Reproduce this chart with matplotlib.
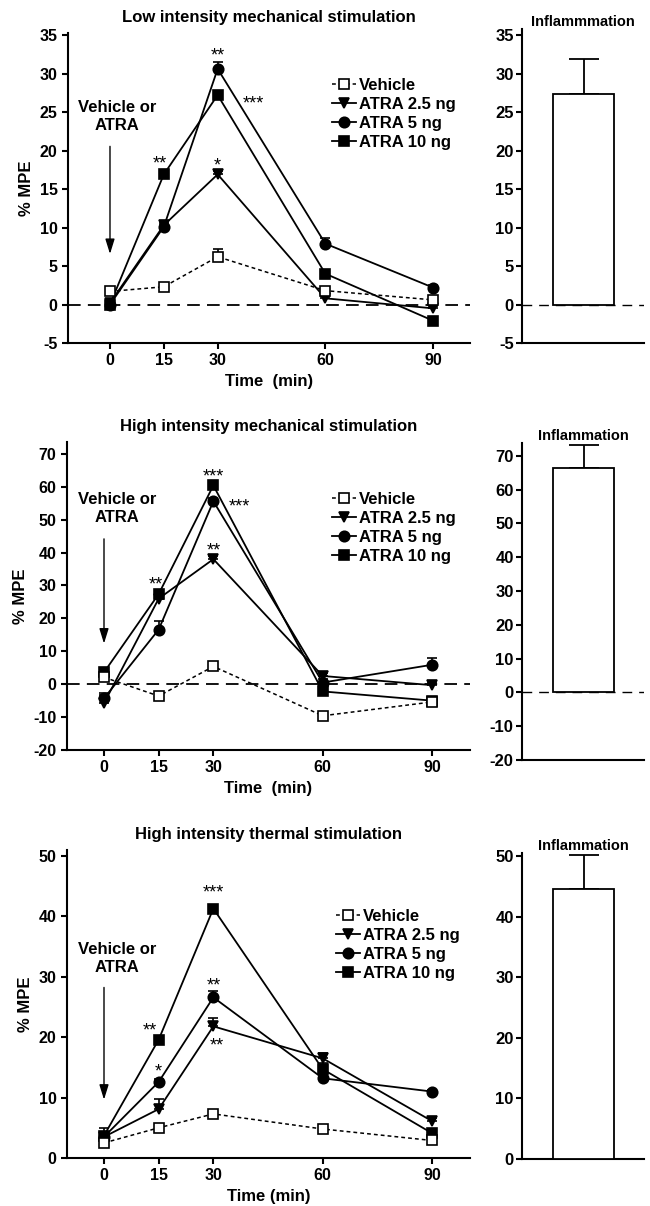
"""Time course of %MPE after ATRA, three stimulation types, with inflammation bars."""

import numpy as np
import matplotlib
matplotlib.use('Agg')
import matplotlib.pyplot as plt

# ---- data -------------------------------------------------------------
times = [0, 15, 30, 60, 90]
series_names = ['Vehicle', 'ATRA 2.5 ng', 'ATRA 5 ng', 'ATRA 10 ng']

# low intensity mechanical
low_vehicle = [1.7, 2.3, 6.2, 1.8, 0.6]
low_atra25 = [0.2, 10.3, 16.9, 0.8, -0.5]
low_atra5 = [0.0, 10.1, 30.6, 7.9, 2.2]
low_atra10 = [0.0, 16.9, 27.2, 4.0, -2.1]
low_vehicle_err = [0.3, 0.3, 1.0, 0.3, 0.3]
low_atra25_err = [0.3, 0.6, 0.5, 0.3, 0.3]
low_atra5_err = [0.3, 0.5, 0.9, 0.8, 0.3]
low_atra10_err = [0.3, 0.4, 0.4, 0.5, 0.3]

# high intensity mechanical
high_vehicle = [2.1, -3.6, 5.4, -9.6, -5.4]
high_atra25 = [-5.8, 26.0, 38.0, 2.5, -0.3]
high_atra5 = [-4.3, 16.6, 55.6, 0.5, 5.9]
high_atra10 = [3.6, 27.4, 60.4, -2.2, -5.0]
high_vehicle_err = [1.0, 0.5, 0.8, 0.5, 0.5]
high_atra25_err = [3.0, 1.0, 1.0, 1.0, 0.8]
high_atra5_err = [1.0, 2.7, 1.0, 1.0, 2.0]
high_atra10_err = [1.0, 1.0, 1.0, 1.0, 1.0]

# high intensity thermal
therm_vehicle = [2.5, 5.0, 7.3, 4.8, 2.9]
therm_atra25 = [3.5, 8.1, 21.8, 16.5, 6.1]
therm_atra5 = [3.5, 12.6, 26.6, 13.2, 11.0]
therm_atra10 = [3.7, 19.6, 41.3, 14.7, 4.1]
therm_vehicle_err = [0.3, 0.3, 0.3, 0.3, 0.3]
therm_atra25_err = [1.5, 1.6, 1.4, 0.9, 0.5]
therm_atra5_err = [0.5, 0.4, 1.0, 0.5, 0.3]
therm_atra10_err = [0.5, 0.4, 0.3, 1.0, 0.4]

# inflammation bars
inflam_means = [27.3, 66.3, 44.5]
inflam_errs = [4.6, 6.9, 5.7]
inflam_titles = ['Inflammmation', 'Inflammation', 'Inflammation']

# significance marks: (x, y of star centre, text)
low_stars = [(30, 33.0, '**'), (40, 26.8, '***'), (14, 19.0, '**'), (30, 18.7, '*')]
high_stars = [(30, 64.7, '***'), (37, 55.6, '***'), (30, 42.4, '**'), (14.3, 31.8, '**')]
therm_stars = [(30, 44.8, '***'), (30, 29.5, '**'), (31, 19.6, '**'), (12.5, 22.0, '**'), (15, 15.2, '*')]

# ---- style -------------------------------------------------------------
plt.rcParams['font.family'] = ['Liberation Sans', 'DejaVu Sans']
plt.rcParams['font.weight'] = 'bold'
plt.rcParams['axes.labelweight'] = 'bold'
plt.rcParams['axes.titleweight'] = 'bold'
plt.rcParams['axes.unicode_minus'] = False
plt.rcParams['axes.linewidth'] = 1.5
plt.rcParams['xtick.major.width'] = 1.5
plt.rcParams['ytick.major.width'] = 1.5
plt.rcParams['xtick.major.size'] = 4
plt.rcParams['ytick.major.size'] = 4
plt.rcParams['xtick.labelsize'] = 11.5
plt.rcParams['ytick.labelsize'] = 11.5

W, H = 650., 1206.
fig = plt.figure(figsize=(W / 100, H / 100), dpi=100)


def px_axes(left, top, right, bottom):
    return fig.add_axes([left / W, 1 - bottom / H, (right - left) / W, (bottom - top) / H])


markers = ['s', 'v', 'o', 's']
faces = ['white', 'black', 'black', 'black']
styles = [(0, (2.5, 2)), '-', '-', '-']


def line_panel(ax, data, errs, stars, title, xlabel, xlim, ylim, yticks,
               zero_line, leg_anchor, text_xy, arrow_y):
    order = [1, 2, 3, 0]  # vehicle drawn on top
    handles = [None] * 4
    for i in order:
        z = 5 if i == 0 else 3
        ax.errorbar(times, data[i], yerr=[np.zeros(5), errs[i]], fmt='none',
                    ecolor='black', elinewidth=1.2, capsize=3.5, capthick=1.2, zorder=z)
        h, = ax.plot(times, data[i], linestyle=styles[i], color='black',
                     lw=1.1 if i == 0 else 1.3, marker=markers[i], ms=7.5,
                     mfc=faces[i], mec='black', mew=1.2, zorder=z + 0.5,
                     label=series_names[i])
        handles[i] = h
    if zero_line:
        ax.axhline(0, color='black', lw=1.3, dashes=(7, 4), zorder=1)
    for x, y, s in stars:
        ax.annotate(s, (x, y), xytext=(0, -7.5), textcoords='offset points',
                    ha='center', va='baseline', fontsize=13, fontweight='normal')
    ax.set_xlim(*xlim)
    ax.set_ylim(*ylim)
    ax.set_xticks(times)
    ax.set_yticks(yticks)
    ax.spines['top'].set_visible(False)
    ax.spines['right'].set_visible(False)
    ax.set_title(title, fontsize=12, pad=8)
    ax.set_xlabel(xlabel, fontsize=12, labelpad=4)
    ax.set_ylabel('% MPE', fontsize=12, labelpad=4)
    ax.legend(handles=handles, loc='upper left', bbox_to_anchor=leg_anchor,
              frameon=False, fontsize=12, handlelength=1.45, handletextpad=0.15,
              labelspacing=0.24, borderpad=0, borderaxespad=0)
    ax.text(text_xy[0], text_xy[1], 'Vehicle or\nATRA', ha='center', va='center',
            fontsize=12, linespacing=1.25)
    ax.annotate('', xy=(0, arrow_y[1]), xytext=(0, arrow_y[0]),
                arrowprops=dict(arrowstyle='-|>,head_width=0.28,head_length=0.9',
                                color='black', lw=1.0))


def bar_panel(ax, mean, err, title, ylim, yticks, zero_line):
    ax.bar([0], [mean], width=1.0, color='white', edgecolor='black', lw=1.3, zorder=3)
    ax.errorbar([0], [mean], yerr=[[0], [err]], fmt='none', ecolor='black',
                elinewidth=1.3, capsize=11, capthick=1.3, zorder=2)
    if zero_line:
        ax.axhline(0, color='black', lw=1.0, dashes=(7, 5), zorder=1)
    ax.set_xlim(-1.01, 0.99)
    ax.set_ylim(*ylim)
    ax.set_yticks(yticks)
    ax.set_xticks([])
    ax.tick_params(axis='y', labelsize=12, pad=2)
    ax.spines['top'].set_visible(False)
    ax.spines['right'].set_visible(False)
    ax.set_title(title, fontsize=10.5, pad=-1)


# panel 1
ax1 = px_axes(68, 33, 470, 343)
line_panel(ax1, [low_vehicle, low_atra25, low_atra5, low_atra10],
           [low_vehicle_err, low_atra25_err, low_atra5_err, low_atra10_err],
           low_stars, 'Low intensity mechanical stimulation', 'Time  (min)',
           (-11.7, 100.3), (-5, 35.26), np.arange(-5, 36, 5), True,
           (0.657, 0.855), (2, 24.4), (20.9, 6.2))
bx1 = px_axes(522, 29, 644, 343)
bar_panel(bx1, inflam_means[0], inflam_errs[0], inflam_titles[0],
          (-5, 35.8), np.arange(-5, 36, 5), True)

# panel 2
ax2 = px_axes(67, 442, 470, 750)
line_panel(ax2, [high_vehicle, high_atra25, high_atra5, high_atra10],
           [high_vehicle_err, high_atra25_err, high_atra5_err, high_atra10_err],
           high_stars, 'High intensity mechanical stimulation', 'Time  (min)',
           (-10.15, 100.4), (-20, 73.6), np.arange(-20, 71, 10), True,
           (0.658, 0.838), (3.5, 53.3), (45, 11.5))
bx2 = px_axes(522, 443, 644, 760)
bar_panel(bx2, inflam_means[1], inflam_errs[1], inflam_titles[1],
          (-20, 73.8), np.arange(-20, 71, 10), True)

# panel 3
ax3 = px_axes(67, 850, 470, 1158)
line_panel(ax3, [therm_vehicle, therm_atra25, therm_atra5, therm_atra10],
           [therm_vehicle_err, therm_atra25_err, therm_atra5_err, therm_atra10_err],
           therm_stars, 'High intensity thermal stimulation', 'Time (min)',
           (-10.15, 100.4), (0, 51), np.arange(0, 51, 10), False,
           (0.668, 0.808), (3.5, 33.0), (28.7, 9.2))
bx3 = px_axes(522, 853, 644, 1159)
bar_panel(bx3, inflam_means[2], inflam_errs[2], inflam_titles[2],
          (0, 50.5), np.arange(0, 51, 10), False)

fig.savefig('out.png', dpi=100)
